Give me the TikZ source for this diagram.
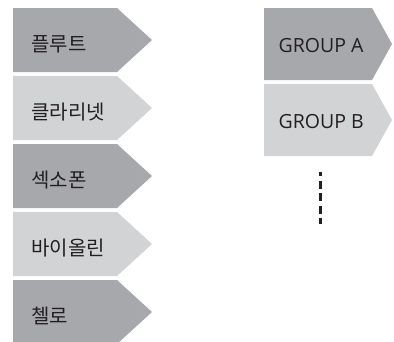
\documentclass[tikz,border=0pt]{standalone}
\usepackage{fontspec}
\setmainfont{Open Sans}
\newfontfamily\kofont{Noto Sans CJK KR}
\usetikzlibrary{positioning}
\definecolor{darkgray}{RGB}{167,168,172}
\definecolor{lightgray}{RGB}{209,211,212}
\definecolor{inkgray}{RGB}{35,31,32}

\begin{document}
\begin{tikzpicture}[x=1pt, y=-1pt]
        \tikzset{
            kolabel/.style={anchor=base west, inner sep=0pt, text=inkgray,
                font=\kofont\fontsize{20}{22}\selectfont},
            grlabel/.style={anchor=base west, inner sep=0pt, text=inkgray,
                font=\fontsize{19.5}{22}\selectfont},
            dots/.style={draw=inkgray, line width=2.2pt,
                dash pattern=on 8pt off 4.5pt, dash phase=4pt}
        }
        \useasboundingbox (0, 0) rectangle (394, 341);

        % instrument column
        \begin{scope}
            \fill[darkgray]  (13, 8) -- (117, 8) -- (152, 40) -- (117, 72) -- (13, 72) -- cycle;
            \fill[lightgray] (13, 76) -- (117, 76) -- (152, 108) -- (117, 140) -- (13, 140) -- cycle;
            \fill[darkgray]  (13, 144) -- (117, 144) -- (152, 176) -- (117, 208) -- (13, 208) -- cycle;
            \fill[lightgray] (13, 212) -- (117, 212) -- (152, 244) -- (117, 276) -- (13, 276) -- cycle;
            \fill[darkgray]  (13, 280) -- (117, 280) -- (152, 312) -- (117, 344) -- (13, 344) -- cycle;
            \node[kolabel] (I1) at (31, 51)  {플루트};
            \node[kolabel] (I2) at (31, 119) {클라리넷};
            \node[kolabel] (I3) at (31, 187) {섹소폰};
            \node[kolabel] (I4) at (31, 255) {바이올린};
            \node[kolabel] (I5) at (31, 323) {첼로};
        \end{scope}

        % group column
        \begin{scope}
            \fill[darkgray]  (264, 8) -- (372, 8) -- (392, 44) -- (372, 80) -- (264, 80) -- cycle;
            \fill[lightgray] (264, 84) -- (372, 84) -- (392, 120) -- (372, 156) -- (264, 156) -- cycle;
            \node[grlabel] (GA) at (278.5, 52)  {GROUP A};
            \node[grlabel] (GB) at (278.5, 128) {GROUP B};
            \coordinate (D1) at (320.5, 172);
            \coordinate (D2) at (320.5, 224);
            \draw[dots] (D1) -- (D2);
        \end{scope}

\end{tikzpicture}
\end{document}
